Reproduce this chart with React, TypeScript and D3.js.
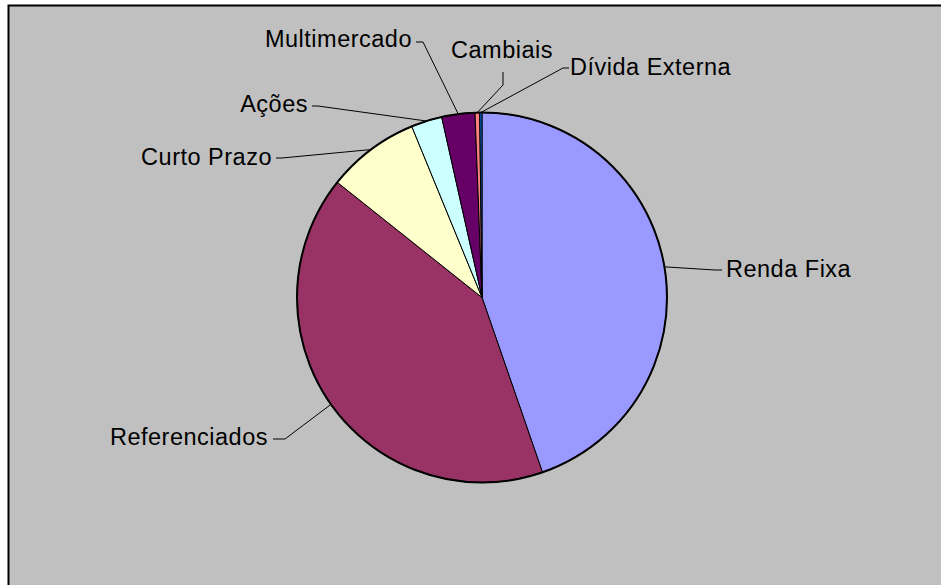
import React from "react";
import * as d3 from "d3";

const categories = ["Renda Fixa", "Referenciados", "Curto Prazo", "Ações", "Multimercado", "Cambiais", "Dívida Externa"];
const values = [44.7, 41.0, 8.1, 2.7, 2.9, 0.4, 0.2];
const colors = ["#9999FF", "#993366", "#FFFFCC", "#CCFFFF", "#660066", "#FF8080", "#0066CC"];

// label placement: text anchor point, elbow and end of the leader line
const labelLayout = [
  { x: 726, y: 277, anchor: "start", elbow: [715, 270], end: [722, 270] },
  { x: 268, y: 445, anchor: "end", elbow: [285, 439], end: [273, 439] },
  { x: 272, y: 165, anchor: "end", elbow: [282, 158], end: [276, 158] },
  { x: 308, y: 112, anchor: "end", elbow: [318, 106], end: [312, 106] },
  { x: 412, y: 47, anchor: "end", elbow: [423, 42], end: [416, 42] },
  { x: 502, y: 58, anchor: "middle", elbow: [503, 85], end: [503, 72] },
  { x: 570, y: 75, anchor: "start", elbow: [563, 68], end: [569, 68] },
];

const W = 941;
const H = 585;
const cx = 482;
const cy = 297.5;
const radius = 185;

export default function App() {
  const pie = d3.pie<number>().sort(null).value((d) => d)(values);
  const arc = d3.arc<d3.PieArcDatum<number>>().innerRadius(0).outerRadius(radius);

  return (
    <svg
      width={W}
      height={H}
      style={{ position: "absolute", left: 0, top: 0, fontFamily: "'Liberation Sans', Arial, sans-serif" }}
    >
      <rect x={0} y={0} width={W} height={H} fill="#fff" />
      <rect x={8.5} y={5.5} width={W + 10} height={H + 10} fill="#C0C0C0" stroke="#000" strokeWidth={2} />
      <g transform={`translate(${cx},${cy})`}>
        {pie.map((d, i) => (
          <path key={i} d={arc(d) ?? ""} fill={colors[i]} stroke="#000" strokeWidth={1} />
        ))}
        <circle r={radius} fill="none" stroke="#000" strokeWidth={2} />
      </g>
      {pie.map((d, i) => {
        const mid = (d.startAngle + d.endAngle) / 2;
        const sx = cx + radius * Math.sin(mid);
        const sy = cy - radius * Math.cos(mid);
        const l = labelLayout[i];
        return (
          <g key={i}>
            <polyline
              points={`${sx},${sy} ${l.elbow[0]},${l.elbow[1]} ${l.end[0]},${l.end[1]}`}
              fill="none"
              stroke="#000"
              strokeWidth={1}
            />
            <text
              x={l.x}
              y={l.y}
              textAnchor={l.anchor as any}
              fontSize={23.5}
              letterSpacing={0.5}
              fill="#000"
            >
              {categories[i]}
            </text>
          </g>
        );
      })}
    </svg>
  );
}
